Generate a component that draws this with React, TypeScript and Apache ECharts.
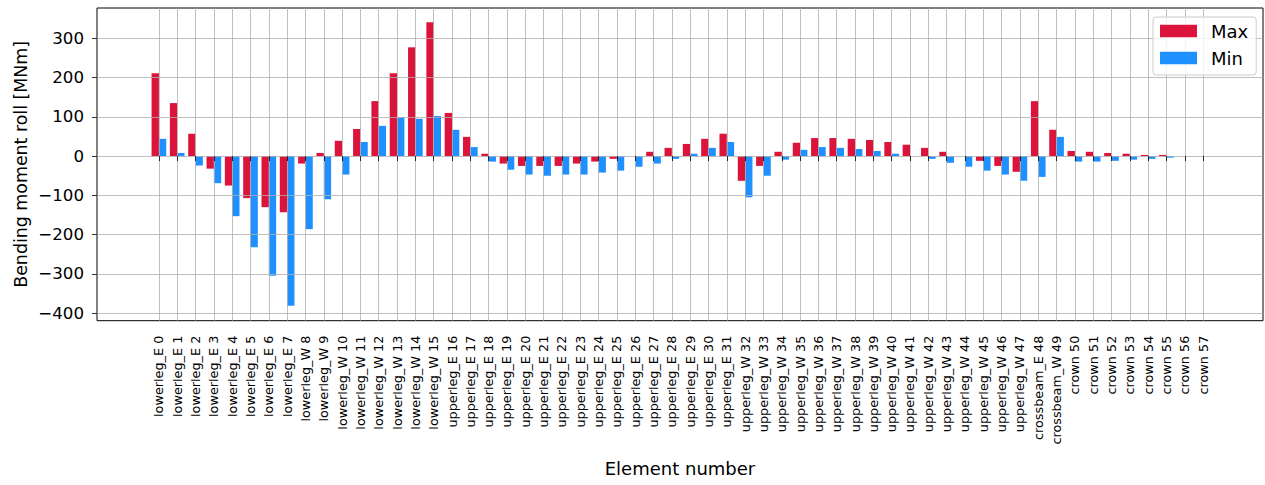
import React, { useEffect, useRef } from "react";
import * as echarts from "echarts";

// Element names along the x axis
const categories: string[] = [
  "lowerleg_E 0", "lowerleg_E 1", "lowerleg_E 2", "lowerleg_E 3",
  "lowerleg_E 4", "lowerleg_E 5", "lowerleg_E 6", "lowerleg_E 7",
  "lowerleg_W 8", "lowerleg_W 9", "lowerleg_W 10", "lowerleg_W 11",
  "lowerleg_W 12", "lowerleg_W 13", "lowerleg_W 14", "lowerleg_W 15",
  "upperleg_E 16", "upperleg_E 17", "upperleg_E 18", "upperleg_E 19",
  "upperleg_E 20", "upperleg_E 21", "upperleg_E 22", "upperleg_E 23",
  "upperleg_E 24", "upperleg_E 25", "upperleg_E 26", "upperleg_E 27",
  "upperleg_E 28", "upperleg_E 29", "upperleg_E 30", "upperleg_E 31",
  "upperleg_W 32", "upperleg_W 33", "upperleg_W 34", "upperleg_W 35",
  "upperleg_W 36", "upperleg_W 37", "upperleg_W 38", "upperleg_W 39",
  "upperleg_W 40", "upperleg_W 41", "upperleg_W 42", "upperleg_W 43",
  "upperleg_W 44", "upperleg_W 45", "upperleg_W 46", "upperleg_W 47",
  "crossbeam_E 48", "crossbeam_W 49",
  "crown 50", "crown 51", "crown 52", "crown 53",
  "crown 54", "crown 55", "crown 56", "crown 57",
];

// Maximum roll bending moment per element [MNm]
const maxValues: number[] = [
  211, 135, 57, -32, -75, -107, -130, -143,
  -19, 8, 39, 69, 140, 211, 277, 341,
  110, 49, 6, -19, -25, -25, -25, -19,
  -14, -7, 0, 11, 21, 31, 44, 57,
  -63, -25, 11, 34, 46, 46, 44, 41,
  36, 29, 21, 11, 0, -12, -25, -40,
  140, 67,
  13, 11, 8, 6, 3, 3, 0, 0,
];

// Minimum roll bending moment per element [MNm]
const minValues: number[] = [
  44, 8, -24, -69, -153, -232, -305, -381,
  -186, -110, -47, 36, 77, 99, 95, 102,
  67, 23, -14, -35, -47, -50, -47, -47,
  -42, -37, -27, -19, -7, 6, 21, 36,
  -105, -50, -9, 16, 23, 21, 18, 13,
  6, 0, -7, -17, -27, -37, -47, -63,
  -53, 49,
  -14, -14, -12, -9, -7, -4, 0, 0,
];

// Visible y tick range
const yTickMin = -400;
const yTickMax = 300;
const yTickStep = 100;
// Full y range of the plotting frame
const yFrameMin = -419.2;
const yFrameMax = 377.2;

const FONT = "DejaVu Sans";
const GRID_COLOR = "#b0b0b0";

// Frame geometry (px)
const frameLeft = 97;
const frameRight = 1263;
const frameTop = 8;
const frameBottom = 320.7;
const firstTickX = 158.9;
const lastTickX = 1203.1;

const pxPerUnit = (frameBottom - frameTop) / (yFrameMax - yFrameMin);
const tickTop = frameTop + (yFrameMax - yTickMax) * pxPerUnit;
const tickBottom = frameTop + (yFrameMax - yTickMin) * pxPerUnit;

export default function App() {
  const ref = useRef<HTMLDivElement>(null);

  useEffect(() => {
    document.body.style.margin = "0";
    if (!ref.current) return;
    const chart = echarts.init(ref.current, null, { renderer: "svg" });

    const option: any = {
      animation: false,
      backgroundColor: "#ffffff",
      textStyle: { fontFamily: FONT, color: "#000" },
      grid: [
        {
          // outer frame + axis titles
          left: frameLeft,
          top: frameTop,
          width: frameRight - frameLeft,
          height: frameBottom - frameTop,
          show: true,
          borderColor: "#000",
          borderWidth: 1,
          backgroundColor: "transparent",
        },
        {
          // y ticks and horizontal grid lines
          left: frameLeft,
          top: tickTop,
          width: frameRight - frameLeft,
          height: tickBottom - tickTop,
        },
        {
          // bars, category ticks and vertical grid lines
          left: firstTickX,
          top: frameTop,
          width: lastTickX - firstTickX,
          height: frameBottom - frameTop,
        },
      ],
      xAxis: [
        {
          gridIndex: 0,
          type: "value",
          min: 0,
          max: 1,
          axisLine: { show: false },
          axisTick: { show: false },
          axisLabel: { show: false },
          splitLine: { show: false },
          name: "Element number",
          nameLocation: "middle",
          nameGap: 139,
          nameTextStyle: { fontSize: 18, fontFamily: FONT, color: "#000" },
        },
        { gridIndex: 1, type: "value", show: false },
        {
          gridIndex: 2,
          type: "category",
          data: categories,
          boundaryGap: false,
          z: 3,
          axisLine: { show: false },
          axisTick: {
            show: true,
            interval: 0,
            length: 5,
            lineStyle: { color: "#000", width: 0.8 },
          },
          axisLabel: {
            interval: 0,
            rotate: 90,
            fontSize: 12.8,
            fontFamily: FONT,
            color: "#000",
            margin: 15,
          },
          splitLine: {
            show: true,
            interval: 0,
            lineStyle: { color: GRID_COLOR, width: 0.8 },
          },
        },
      ],
      yAxis: [
        {
          gridIndex: 0,
          type: "value",
          min: 0,
          max: 1,
          axisLine: { show: false },
          axisTick: { show: false },
          axisLabel: { show: false },
          splitLine: { show: false },
          name: "Bending moment roll [MNm]",
          nameLocation: "middle",
          nameGap: 68,
          nameTextStyle: { fontSize: 17.4, fontFamily: FONT, color: "#000" },
        },
        {
          gridIndex: 1,
          type: "value",
          min: yTickMin,
          max: yTickMax,
          interval: yTickStep,
          z: 3,
          axisLine: { show: false },
          axisTick: {
            show: true,
            length: 5,
            lineStyle: { color: "#000", width: 0.8 },
          },
          axisLabel: {
            fontSize: 16.67,
            fontFamily: FONT,
            color: "#000",
            margin: 13,
            formatter: (v: number) => String(v).replace("-", "\u2212"),
          },
          splitLine: {
            show: true,
            lineStyle: { color: GRID_COLOR, width: 0.8 },
          },
        },
        {
          gridIndex: 2,
          type: "value",
          min: yFrameMin,
          max: yFrameMax,
          show: false,
        },
      ],
      legend: {
        data: ["Max", "Min"],
        orient: "vertical",
        left: 1153,
        top: 17,
        icon: "rect",
        itemWidth: 37,
        itemHeight: 12.5,
        itemGap: 9,
        padding: [5, 8, 8, 7],
        backgroundColor: "rgba(255,255,255,0.8)",
        borderColor: "#cccccc",
        borderWidth: 1,
        borderRadius: 3,
        textStyle: {
          fontSize: 18,
          fontFamily: FONT,
          color: "#000",
          padding: [0, 0, 0, 9],
        },
      },
      series: [
        {
          name: "Max",
          type: "bar",
          xAxisIndex: 2,
          yAxisIndex: 2,
          data: maxValues,
          barWidth: "40%",
          barGap: "0%",
          clip: false,
          itemStyle: { color: "#DC143C" },
        },
        {
          name: "Min",
          type: "bar",
          xAxisIndex: 2,
          yAxisIndex: 2,
          data: minValues,
          barWidth: "40%",
          barGap: "0%",
          clip: false,
          itemStyle: { color: "#1E90FF" },
        },
      ],
    };

    chart.setOption(option);
    return () => chart.dispose();
  }, []);

  return <div ref={ref} style={{ width: 1265, height: 485 }} />;
}
